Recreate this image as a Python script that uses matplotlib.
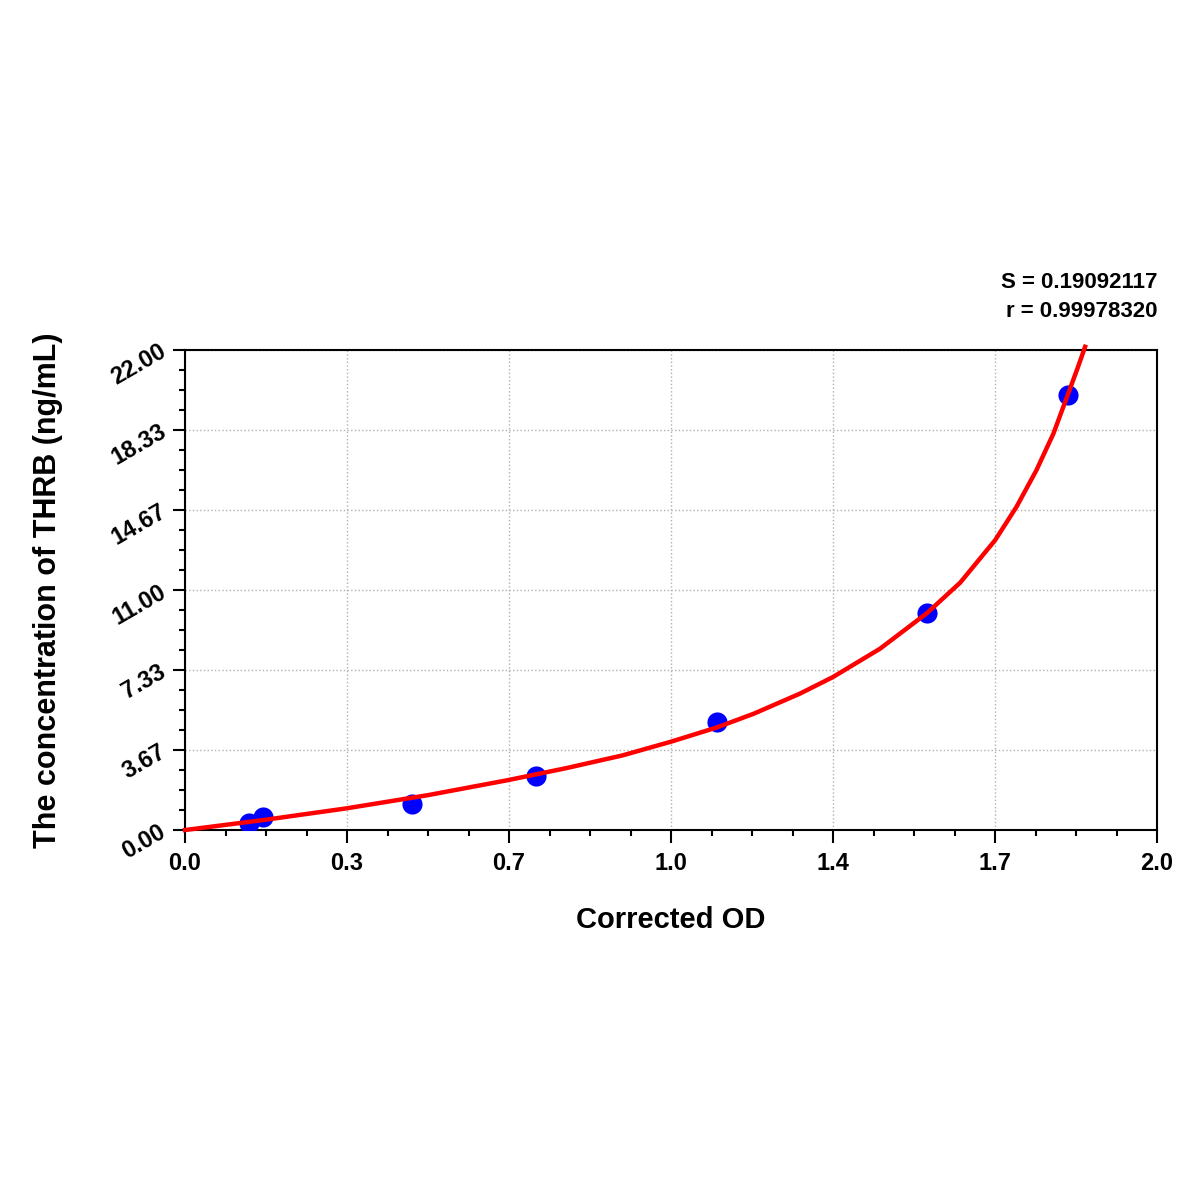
import numpy as np
import matplotlib.pyplot as plt
from matplotlib.ticker import FixedLocator, AutoMinorLocator

plt.rcParams['font.family'] = ['Liberation Sans', 'DejaVu Sans']
plt.rcParams['font.weight'] = 'bold'

# standards (corrected OD vs concentration)
od = [0.132, 0.160, 0.466, 0.722, 1.094, 1.527, 1.817]
conc = [0.31, 0.60, 1.21, 2.46, 4.96, 9.95, 19.95]

# fitted curve
fit_od = [0.0, 0.165, 0.331, 0.5, 0.665, 0.785, 0.9, 1.0, 1.094, 1.17, 1.265,
          1.333, 1.43, 1.527, 1.595, 1.667, 1.711, 1.752, 1.787, 1.8175, 1.837, 1.852]
fit_conc = [0.0, 0.47, 0.99, 1.60, 2.29, 2.84, 3.42, 4.05, 4.70, 5.33, 6.25,
            7.01, 8.31, 9.95, 11.34, 13.29, 14.82, 16.50, 18.18, 20.02, 21.20, 22.15]

x_ticks = [0, 2/6, 4/6, 1.0, 8/6, 10/6, 2.0]
x_labels = ['0.0', '0.3', '0.7', '1.0', '1.4', '1.7', '2.0']
y_ticks = [0, 22/6, 44/6, 11.0, 88/6, 110/6, 22.0]
y_labels = ['0.00', '3.67', '7.33', '11.00', '14.67', '18.33', '22.00']

S_val = '0.19092117'
r_val = '0.99978320'

fig = plt.figure(figsize=(12, 12), dpi=100)
ax = fig.add_axes([0.1542, 0.3083, 0.81, 0.4])

ax.plot(od, conc, 'o', color='#0000ff', markersize=14.5, markeredgewidth=0, zorder=3)
ax.plot(fit_od, fit_conc, color='#ff0000', linewidth=3.2, zorder=4, clip_on=False,
        solid_joinstyle='round')

ax.set_xlim(0, 2.0)
ax.set_ylim(0, 22.0)

ax.xaxis.set_major_locator(FixedLocator(x_ticks))
ax.set_xticklabels(x_labels)
ax.yaxis.set_major_locator(FixedLocator(y_ticks))
ax.set_yticklabels(y_labels, rotation=30, ha='right', va='center', rotation_mode='anchor')
ax.xaxis.set_minor_locator(AutoMinorLocator(4))
ax.yaxis.set_minor_locator(AutoMinorLocator(4))

ax.tick_params(which='major', length=9, width=1.5, labelsize=17, direction='out')
ax.tick_params(which='minor', length=4.5, width=1.5, direction='out')
ax.tick_params(axis='x', which='major', pad=7)
ax.tick_params(axis='y', which='major', pad=6)
for lab in ax.get_xticklabels() + ax.get_yticklabels():
    lab.set_fontweight('bold')

for s in ax.spines.values():
    s.set_linewidth(1.5)

ax.grid(True, which='major', linestyle=':', color='#b0b0b0', linewidth=1)

ax.set_xlabel('Corrected OD', fontsize=21, fontweight='bold', labelpad=22)
ax.set_ylabel('The concentration of THRB (ng/mL)', fontsize=22, fontweight='bold', labelpad=32)

ax.text(1.0, 1.14, 'S = ' + S_val, transform=ax.transAxes, ha='right', va='center',
        fontsize=16, fontweight='bold')
ax.text(1.0, 1.08, 'r = ' + r_val, transform=ax.transAxes, ha='right', va='center',
        fontsize=16, fontweight='bold')

fig.savefig('out.png', dpi=100, facecolor='white')
